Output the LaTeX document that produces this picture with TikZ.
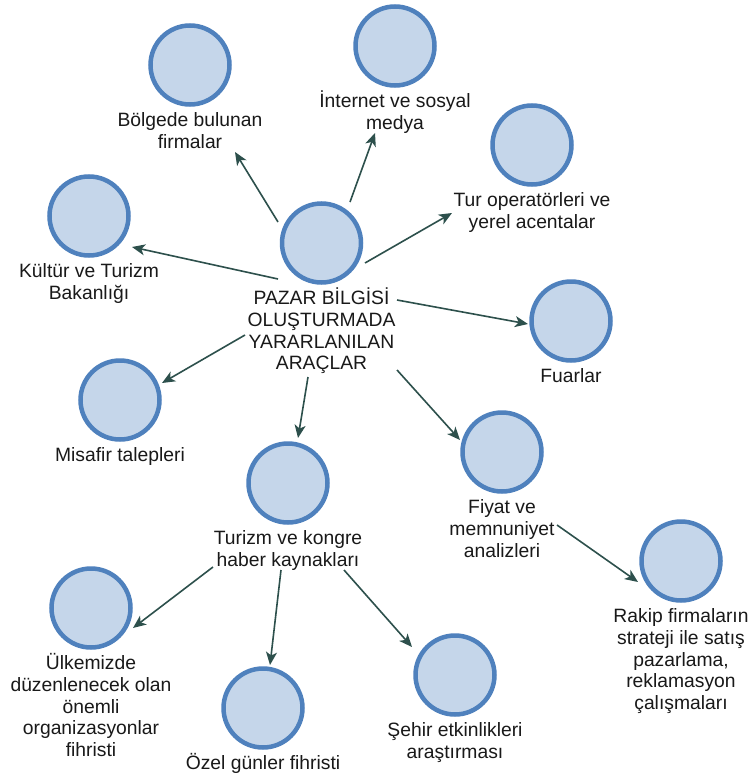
\documentclass[tikz,border=0pt]{standalone}
\usepackage{fontspec}
\setmainfont{Liberation Sans}
\usetikzlibrary{arrows.meta,calc}
\definecolor{ringblue}{RGB}{79,129,189}
\definecolor{fillblue}{RGB}{197,214,234}
\definecolor{arrowc}{RGB}{45,80,76}
\definecolor{txtc}{RGB}{25,25,25}
\tikzset{
  bubble/.style={circle, draw=ringblue, fill=fillblue, line width=4.5pt, minimum size=79pt, inner sep=0pt},
  lbl/.style={anchor=north, align=center, inner sep=0pt, text=txtc, font=\fontsize{19.3}{21.7}\selectfont},
  arr/.style={draw=arrowc, line width=1.6pt, -{Stealth[length=13pt,width=11pt,inset=3.5pt]}},
}
\newcommand\bub[4]{%
  \node[bubble] (#1) at (#2,#3) {};
  \node[lbl] (#1t) at ([yshift=-43.5pt]#1.center) {\rule{0pt}{18pt}#4};}
\begin{document}
\begin{tikzpicture}[x=1pt,y=-1pt]
\fill[white] (0,0) rectangle (749,776);
\useasboundingbox (0,0) rectangle (749,776);
\bub{pz}{321.5}{243}{PAZAR BİLGİSİ\\OLUŞTURMADA\\YARARLANILAN\\ARAÇLAR}
\bub{bolg}{190}{65}{Bölgede bulunan\\firmalar}
\bub{inet}{395}{46}{İnternet ve sosyal\\medya}
\bub{tur}{532}{145}{Tur operatörleri ve\\yerel acentalar}
\bub{kult}{89}{216}{Kültür ve Turizm\\Bakanlığı}
\bub{fuar}{571}{321}{Fuarlar}
\bub{misa}{120}{400}{Misafir talepleri}
\bub{turz}{288}{483}{Turizm ve kongre\\haber kaynakları}
\bub{fiya}{502}{452}{Fiyat ve\\memnuniyet\\analizleri}
\bub{rakp}{681}{561}{Rakip firmaların\\strateji ile satış\\pazarlama,\\reklamasyon\\çalışmaları}
\bub{ulke}{91}{608}{Ülkemizde\\düzenlenecek olan\\önemli\\organizasyonlar\\fihristi}
\bub{ozel}{263}{708}{Özel günler fihristi}
\bub{sehr}{455}{675}{Şehir etkinlikleri\\araştırması}
% connectors
\draw[arr] ($(pz)+(-43.5,-21)$) -- ($(bolg)+(45,87)$);
\draw[arr] ($(pz)+(28.5,-41)$) -- ($(inet)+(-20,87)$);
\draw[arr] ($(pz)+(43.5,20)$) -- ($(tur)+(-80,68)$);
\draw[arr] ($(pz)+(-43.5,36)$) -- ($(kult)+(43,31)$);
\draw[arr] ($(pz)+(75.5,57)$) -- ($(fuar)+(-43,3)$);
\draw[arr] ($(pz)+(-76.5,92)$) -- ($(misa)+(42,-17)$);
\draw[arr] ($(pz)+(-13.5,134)$) -- ($(turz)+(10,-45)$);
\draw[arr] ($(pz)+(75.5,127)$) -- ($(fiya)+(-42,-12)$);
\draw[arr] ($(fiya)+(55,73)$) -- ($(rakp)+(-43,21)$);
\draw[arr] ($(turz)+(-75,84)$) -- ($(ulke)+(42,20)$);
\draw[arr] ($(turz)+(-7,87)$) -- ($(ozel)+(7,-43)$);
\draw[arr] ($(turz)+(56,87)$) -- ($(sehr)+(-43,-28)$);
\end{tikzpicture}
\end{document}
